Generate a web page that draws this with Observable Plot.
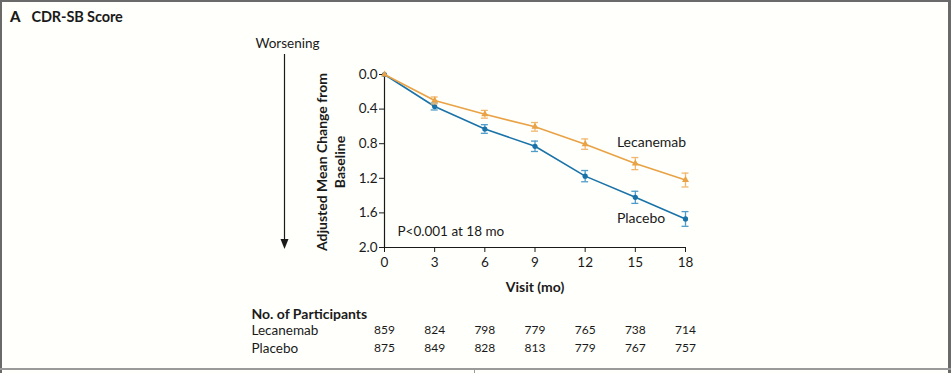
<!DOCTYPE html>
<html>
<head>
<meta charset="utf-8">
<script src="https://cdn.jsdelivr.net/npm/d3@7"></script>
<script src="https://cdn.jsdelivr.net/npm/@observablehq/plot@0.6"></script>
<style>
  html, body { margin: 0; padding: 0; background: #fffffb; }
  #wrap { position: relative; width: 951px; height: 373px; overflow: hidden; font-family: Lato, "Open Sans", sans-serif; color: #1a1a1a; }
  .frame-top { position: absolute; left: 0; top: 0; width: 951px; height: 2px; background: #6a6a6a; }
  .frame-left { position: absolute; left: 0; top: 0; width: 2px; height: 373px; background: #6a6a6a; }
  .frame-right { position: absolute; left: 948px; top: 0; width: 3px; height: 373px; background: #6a6a6a; }
  .frame-bottom { position: absolute; left: 0; top: 368px; width: 951px; height: 2px; background: #9a9a9a; }
  .frame-tick { position: absolute; left: 474px; top: 368px; width: 1px; height: 5px; background: #9a9a9a; }
  .title { position: absolute; left: 10px; top: 7px; font-weight: 700; font-size: 14.5px; letter-spacing: -0.1px; }
  .title b { margin-right: 11px; font-size: 15px; }
  #chart { position: absolute; left: 0; top: 0; }
  #arrow { position: absolute; left: 0; top: 0; }
</style>
</head>
<body>
<div id="wrap">
  <div class="frame-top"></div>
  <div class="frame-left"></div>
  <div class="frame-right"></div>
  <div class="frame-bottom"></div>
  <div class="frame-tick"></div>
  <div class="title"><b>A</b>CDR-SB Score</div>
  <div id="chart"></div>
  <svg id="arrow" width="951" height="373">
    <line x1="284.5" y1="54" x2="284.5" y2="240" stroke="#1a1a1a" stroke-width="1.2"></line>
    <path d="M280.5,239 L288.5,239 L284.5,249 Z" fill="#1a1a1a"></path>
  </svg>
</div>
<script>
const visits = [0, 3, 6, 9, 12, 15, 18];
const lecanemabMean = [0, 0.30, 0.46, 0.605, 0.805, 1.03, 1.22];
const lecanemabErr  = [0, 0.04, 0.045, 0.05, 0.06, 0.07, 0.08];
const placeboMean   = [0, 0.37, 0.63, 0.83, 1.175, 1.42, 1.67];
const placeboErr    = [0, 0.04, 0.05, 0.06, 0.065, 0.07, 0.085];
const lecanemabN = [859, 824, 798, 779, 765, 738, 714];
const placeboN   = [875, 849, 828, 813, 779, 767, 757];
const yTicks = [0, 0.4, 0.8, 1.2, 1.6, 2.0];
const seriesLabels = [
  {name: "Lecanemab", x: 13.9, y: 0.79},
  {name: "Placebo", x: 13.9, y: 1.66}
];

const orange = "#e9a245";
const blue = "#1a73a8";
const orangeErr = "#f0b66e";
const blueErr = "#4f9cc9";
const ink = "#1a1a1a";

const lec = visits.map((v, i) => ({x: v, y: lecanemabMean[i], lo: lecanemabMean[i] - lecanemabErr[i], hi: lecanemabMean[i] + lecanemabErr[i]}));
const pla = visits.map((v, i) => ({x: v, y: placeboMean[i], lo: placeboMean[i] - placeboErr[i], hi: placeboMean[i] + placeboErr[i]}));
const lecE = lec.filter(d => d.x > 0);
const plaE = pla.filter(d => d.x > 0);

function errMarks(data, color) {
  return [
    Plot.ruleX(data, {x: "x", y1: "lo", y2: "hi", stroke: color, strokeWidth: 1.3}),
    Plot.ruleY(data, {y: "lo", x1: "x", x2: "x", insetLeft: -3.5, insetRight: -3.5, stroke: color, strokeWidth: 1.3}),
    Plot.ruleY(data, {y: "hi", x1: "x", x2: "x", insetLeft: -3.5, insetRight: -3.5, stroke: color, strokeWidth: 1.3})
  ];
}

const chart = Plot.plot({
  width: 951,
  height: 373,
  marginLeft: 384,
  marginRight: 266,
  marginTop: 74,
  marginBottom: 126,
  style: {background: "transparent", fontFamily: "Lato, 'Open Sans', sans-serif", fontSize: "12px", color: ink, overflow: "visible"},
  x: {domain: [0, 18]},
  y: {domain: [0, 2], reverse: true},
  marks: [
    Plot.axisY({ticks: yTicks, tickFormat: d3.format(".1f"), tickSize: 5, tickPadding: 2, label: null, fontSize: 13.5, stroke: ink}),
    Plot.axisX({ticks: visits, tickSize: 5, tickPadding: 5, label: null, fontSize: 13.5, stroke: ink}),
    Plot.ruleX([0], {stroke: ink, strokeWidth: 1.2}),
    Plot.ruleY([2], {stroke: ink, strokeWidth: 1.2}),
    ...errMarks(plaE, blueErr),
    Plot.line(pla, {x: "x", y: "y", stroke: blue, strokeWidth: 1.6}),
    Plot.dot(pla, {x: "x", y: "y", r: 2.6, fill: blue, stroke: "none"}),
    ...errMarks(lecE, orangeErr),
    Plot.line(lec, {x: "x", y: "y", stroke: orange, strokeWidth: 1.6}),
    Plot.dot(lec, {x: "x", y: "y", r: 2.6, symbol: "triangle", fill: orange, stroke: "none"}),
    Plot.text(seriesLabels, {x: "x", y: "y", text: "name", textAnchor: "start", fontSize: 14, fill: ink}),
    Plot.text(["P<0.001 at 18 mo"], {frameAnchor: "bottom-left", dx: 13, dy: -16, textAnchor: "start", lineAnchor: "middle", fontSize: 13.5, fill: ink}),
    Plot.text(["Adjusted Mean Change from\nBaseline"], {frameAnchor: "left", dx: -54, dy: 1, rotate: -90, textAnchor: "middle", lineAnchor: "middle", fontWeight: 700, fontSize: 14, lineHeight: 1.22, fill: ink}),
    Plot.text(["Visit (mo)"], {frameAnchor: "bottom", dy: 40, textAnchor: "middle", lineAnchor: "middle", fontWeight: 700, fontSize: 14, fill: ink}),
    Plot.text(["Worsening"], {frameAnchor: "top-left", dx: -97, dy: -31, textAnchor: "middle", lineAnchor: "middle", fontSize: 13.5, fill: ink}),
    Plot.text(["No. of Participants"], {frameAnchor: "bottom-left", dx: -133, dy: 67, textAnchor: "start", lineAnchor: "middle", fontWeight: 700, fontSize: 14, fill: ink}),
    Plot.text(["Lecanemab"], {frameAnchor: "bottom-left", dx: -133, dy: 83, textAnchor: "start", lineAnchor: "middle", fontSize: 13.5, fill: ink}),
    Plot.text(["Placebo"], {frameAnchor: "bottom-left", dx: -133, dy: 101, textAnchor: "start", lineAnchor: "middle", fontSize: 13.5, fill: ink}),
    Plot.text(visits, {x: d => d, y: () => 2, dy: 83, lineAnchor: "middle", text: (d, i) => String(lecanemabN[i]), fontSize: 12, fill: ink}),
    Plot.text(visits, {x: d => d, y: () => 2, dy: 101, lineAnchor: "middle", text: (d, i) => String(placeboN[i]), fontSize: 12, fill: ink})
  ]
});
document.getElementById("chart").appendChild(chart);
</script>
</body>
</html>
